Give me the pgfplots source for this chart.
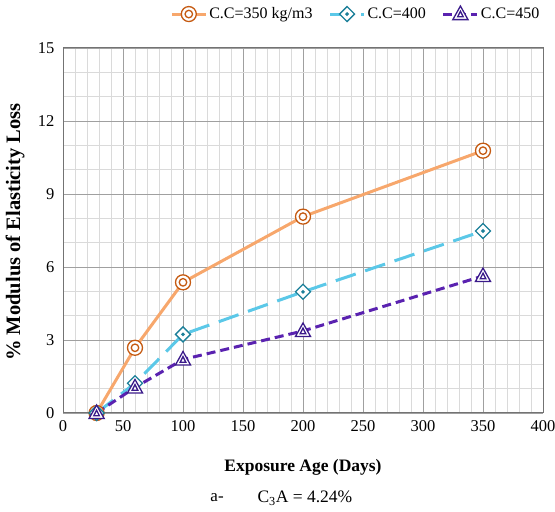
\documentclass[border=0pt]{standalone}
\usepackage{pgfplots}
\pgfplotsset{compat=1.18}
\usepackage{fontspec}
\setmainfont{Liberation Serif}
\definecolor{orl}{HTML}{F7A76C}
\definecolor{orm}{HTML}{C55A11}
\definecolor{bll}{HTML}{5BC8E8}
\definecolor{blm}{HTML}{1B7F99}
\definecolor{pul}{HTML}{5A22B0}
\definecolor{pum}{HTML}{3A1A8A}
\definecolor{gmaj}{HTML}{A0A0A0}
\definecolor{gmin}{HTML}{DADADA}
\pgfdeclareplotmark{dcircle}{%
  \pgfpathcircle{\pgfpointorigin}{\pgfplotmarksize}\pgfusepathqfillstroke
  \pgfpathcircle{\pgfpointorigin}{0.5\pgfplotmarksize}\pgfusepathqstroke}
\pgfdeclareplotmark{ddiamond}{%
  \pgfpathmoveto{\pgfqpoint{0pt}{\pgfplotmarksize}}%
  \pgfpathlineto{\pgfqpoint{\pgfplotmarksize}{0pt}}%
  \pgfpathlineto{\pgfqpoint{0pt}{-\pgfplotmarksize}}%
  \pgfpathlineto{\pgfqpoint{-\pgfplotmarksize}{0pt}}%
  \pgfpathclose\pgfusepathqfillstroke
  \pgfpathcircle{\pgfpointorigin}{0.15\pgfplotmarksize}\pgfusepathqstroke}
\pgfdeclareplotmark{dtriangle}{%
  \pgfpathmoveto{\pgfqpoint{0pt}{\pgfplotmarksize}}%
  \pgfpathlineto{\pgfqpoint{0.95\pgfplotmarksize}{-0.7\pgfplotmarksize}}%
  \pgfpathlineto{\pgfqpoint{-0.95\pgfplotmarksize}{-0.7\pgfplotmarksize}}%
  \pgfpathclose\pgfusepathqfillstroke
  \pgfpathmoveto{\pgfqpoint{0pt}{0.35\pgfplotmarksize}}%
  \pgfpathlineto{\pgfqpoint{0.35\pgfplotmarksize}{-0.35\pgfplotmarksize}}%
  \pgfpathlineto{\pgfqpoint{-0.35\pgfplotmarksize}{-0.35\pgfplotmarksize}}%
  \pgfpathclose\pgfusepathqstroke}
\begin{document}
\begin{tikzpicture}
\begin{axis}[
  scale only axis, width=480pt, height=365pt,
  xmin=0, xmax=400, ymin=0, ymax=15,
  xtick={0,50,...,400}, ytick={0,3,...,15},
  minor x tick num=4, minor y tick num=2,
  grid=both,
  major grid style={gmaj, line width=0.8pt},
  minor grid style={gmin, line width=0.8pt},
  axis line style={draw=gray!90!black, line width=1pt},
  major tick length=0pt, minor tick length=0pt,
  /pgf/number format/assume math mode=true,
  ticklabel style={font=\fontsize{16.5}{18}\selectfont},
  xticklabel style={yshift=-4pt},
  yticklabel style={xshift=-5pt},
  xlabel={\textbf{Exposure Age (Days)}},
  ylabel={\textbf{\% Modulus of Elasticity Loss}},
  xlabel style={at={(axis description cs:0.5,-0.148)}, anchor=center, font=\fontsize{17.5}{20}\selectfont},
  ylabel style={at={(axis description cs:-0.1,0.496)}, anchor=center, font=\fontsize{20.5}{23}\selectfont},
  clip=false,
  legend columns=3,
  legend style={draw=none, fill=none, at={(axis description cs:0.61,1.093)}, anchor=center,
    font=\fontsize{16}{18}\selectfont,
    /tikz/every even column/.append style={column sep=14pt}},
  legend image code/.code={%
    \draw[#1, mark=none] (0pt,0pt) -- (34pt,0pt);
    \draw[#1, only marks] plot coordinates {(17pt,0pt)};},
]
\addplot[orl, line width=3pt, mark=dcircle, mark size=7.5pt,
  mark options={draw=orm, fill=white, line width=1.3pt, solid}]
  coordinates {(28,0) (60,2.68) (100,5.37) (200,8.07) (350,10.78)};
\addlegendentry{C.C=350 kg/m3}
\addplot[bll, line width=3pt, dash pattern=on 21pt off 10pt, mark=ddiamond, mark size=7.5pt,
  mark options={draw=blm, fill=white, line width=1.3pt, solid}]
  coordinates {(28,0) (60,1.22) (100,3.23) (200,4.98) (350,7.48)};
\addlegendentry{C.C=400}
\addplot[pul, line width=3pt, dash pattern=on 9pt off 5pt, mark=dtriangle, mark size=8pt,
  mark options={draw=pum, fill=white, line width=1.3pt, solid}]
  coordinates {(28,0) (60,1.05) (100,2.2) (200,3.37) (350,5.63)};
\addlegendentry{C.C=450}
\node[font=\fontsize{17}{20}\selectfont] at (axis description cs:0.321,-0.233) {a-};
\node[font=\fontsize{17.5}{20}\selectfont] at (axis description cs:0.504,-0.233) {C\textsubscript{3}A = 4.24\%};
\coordinate (bbl) at (axis description cs:-0.13125,-0.27123);
\coordinate (btr) at (axis description cs:1.025,1.13151);
\end{axis}
\pgfresetboundingbox
\path[use as bounding box] (bbl) rectangle (btr);
\end{tikzpicture}
\end{document}
